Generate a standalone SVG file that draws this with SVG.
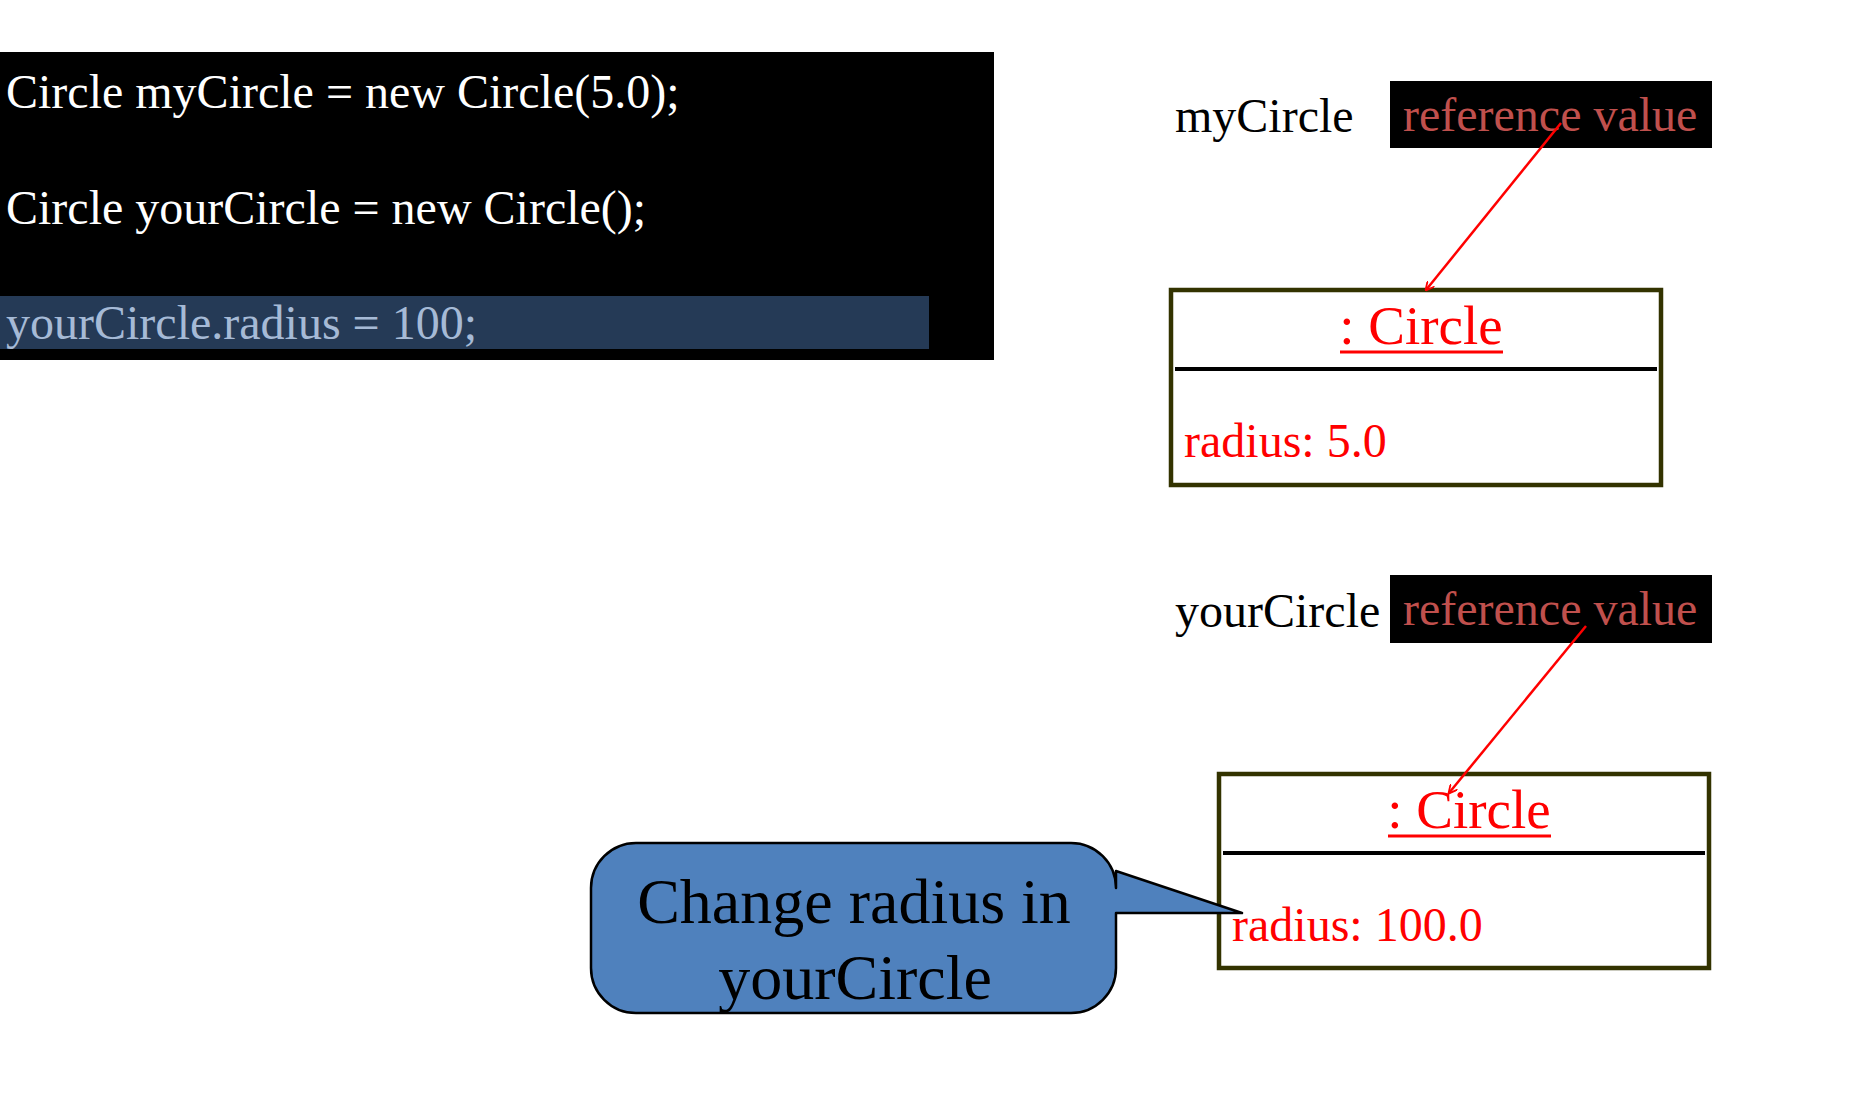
<svg xmlns="http://www.w3.org/2000/svg" width="1871" height="1095" viewBox="0 0 1871 1095">
<style>
text{font-family:"Liberation Serif","Times New Roman",serif;}
.code{font-size:48px;fill:#ffffff;}
.hl{font-size:48px;fill:#a6bad6;}
.var{font-size:48px;fill:#000000;}
.ref{font-size:48px;fill:#c0504d;}
.cls{font-size:55px;fill:#ff0000;text-anchor:middle;}
.attr{font-size:48px;fill:#ff0000;}
.box{fill:#ffffff;stroke:#333300;stroke-width:4.5;}
.div{stroke:#000000;stroke-width:4;}
.ul{stroke:#ff0000;stroke-width:3;}
.conn{stroke:#ff0000;stroke-width:2.5;fill:none;marker-end:url(#arr);}
.call{font-size:64px;fill:#000000;text-anchor:middle;}
</style>
<defs>
<marker id="arr" viewBox="0 0 10 10" refX="9" refY="5" markerWidth="9" markerHeight="9" orient="auto" markerUnits="userSpaceOnUse">
<path d="M0,0 L10,5 L0,10" fill="none" stroke="#ff0000" stroke-width="2"/>
</marker>
</defs>
<rect width="1871" height="1095" fill="#ffffff"/>
<g id="code">
<rect x="0" y="52" width="994" height="308" fill="#000000"/>
<rect x="0" y="296" width="929" height="53" fill="#253a56"/>
<text class="code" x="6" y="108">Circle myCircle = new Circle(5.0);</text>
<text class="code" x="6" y="224">Circle yourCircle = new Circle();</text>
<text class="hl" x="6" y="339">yourCircle.radius = 100;</text>
</g>
<g id="myCircleRef">
<text class="var" x="1175" y="132">myCircle</text>
<rect x="1390" y="81" width="322" height="67" fill="#000000"/>
<text class="ref" x="1403" y="131">reference value</text>
</g>
<g id="circle1">
<rect class="box" x="1171" y="290" width="490" height="195"/>
<line class="div" x1="1175" y1="369" x2="1657" y2="369"/>
<text class="cls" x="1421" y="344">: Circle</text>
<line class="ul" x1="1340" y1="352" x2="1503" y2="352"/>
<text class="attr" x="1184" y="457">radius: 5.0</text>
</g>
<g id="yourCircleRef">
<text class="var" x="1175" y="627">yourCircle</text>
<rect x="1390" y="575" width="322" height="68" fill="#000000"/>
<text class="ref" x="1403" y="625">reference value</text>
</g>
<g id="circle2">
<rect class="box" x="1219" y="774" width="490" height="194"/>
<line class="div" x1="1223" y1="853" x2="1705" y2="853"/>
<text class="cls" x="1469" y="828">: Circle</text>
<line class="ul" x1="1388" y1="836" x2="1551" y2="836"/>
<text class="attr" x="1232" y="941">radius: 100.0</text>
</g>
<g id="callout">
<path d="M636,843 H1071 A45,45 0 0 1 1116,888 V871 L1242,913 H1116 V968 A45,45 0 0 1 1071,1013 H636 A45,45 0 0 1 591,968 V888 A45,45 0 0 1 636,843 Z" fill="#4f81bd" stroke="#000000" stroke-width="2.5" stroke-linejoin="round"/>
<text class="call" x="854" y="923">Change radius in</text>
<text class="call" x="855" y="999">yourCircle</text>
</g>
<g id="connectors">
<line class="conn" x1="1561" y1="123" x2="1426" y2="290"/>
<line class="conn" x1="1586" y1="626" x2="1449" y2="793"/>
</g>
</svg>
